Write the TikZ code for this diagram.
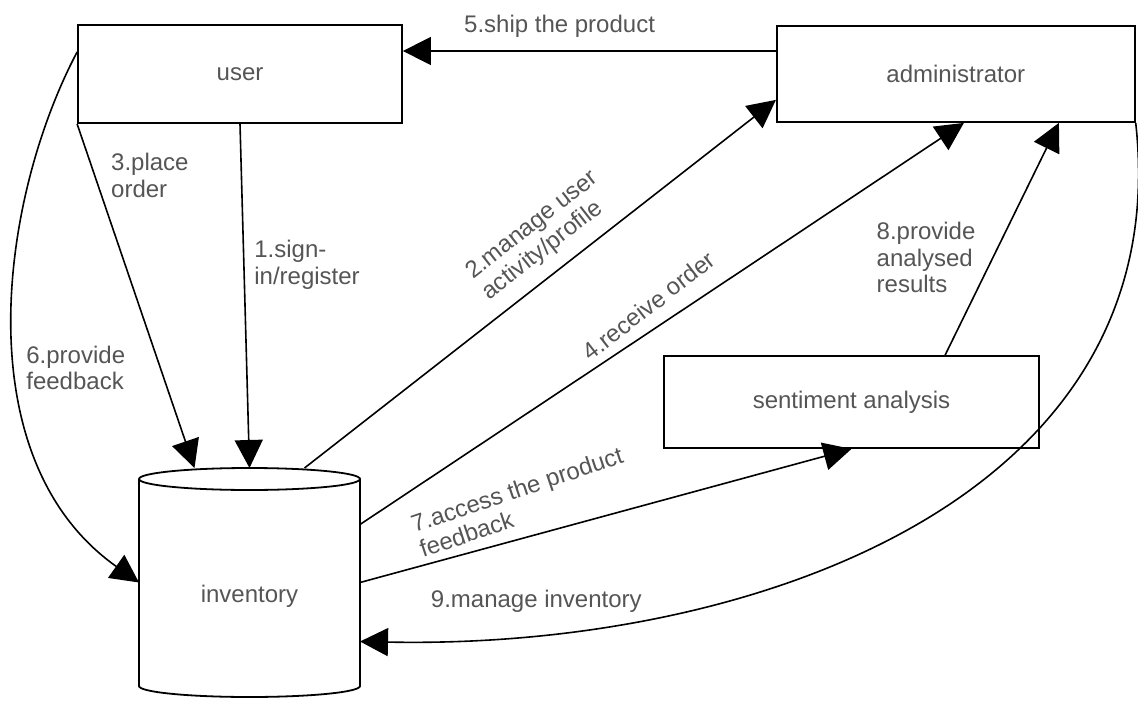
\documentclass[tikz,border=0pt]{standalone}
\usepackage{fontspec}
\setmainfont{Liberation Sans}
\usetikzlibrary{arrows.meta,positioning,shapes.geometric,calc}
\definecolor{labelgray}{RGB}{85,85,85}

\begin{document}
\begin{tikzpicture}[x=0.5pt, y=-0.5pt, >={Triangle[length=14pt,width=14pt]},
  box/.style={draw, line width=0.9pt, minimum height=48pt,
              font=\fontsize{12}{13.2}\selectfont, text=labelgray},
  db/.style={box, draw=none, outer sep=0pt, minimum width=110.5pt, minimum height=114.5pt},
  rim/.style={line width=0.9pt},
  flow/.style={->, line width=0.8pt},
  lbl/.style={font=\fontsize{12}{13.2}\selectfont, text=labelgray, align=left}]
\useasboundingbox (0,0) rectangle (1138,700);
\node[box, minimum width=162pt, minimum height=49pt] (user) at (240,74) {user};
\node[box, minimum width=179pt, right=186.5pt of user] (admin) {administrator};
\node[box, minimum width=187.5pt, minimum height=46pt] (senti) at (851.5,402) {sentiment analysis};
\node[db] (inv) at (249.5,582.5) {\raisebox{-7pt}[\height][\depth]{inventory}};
\draw[rim] ([yshift=-5.5pt]inv.north) ellipse [x radius=55.25pt, y radius=5.5pt];
\draw[rim] ([yshift=-5.5pt]inv.north west) -- ([yshift=5.5pt]inv.south west)
  arc [start angle=180, end angle=360, x radius=55.25pt, y radius=5.5pt]
  -- ([yshift=-5.5pt]inv.north east);
\draw[flow] (user.south) -- (inv.north)
  node[lbl, pos=0.41, right=1.5pt] {1.sign-\\in/register};
\draw[flow] ([xshift=27.5pt]inv.north) -- ([yshift=11.5pt]admin.south west)
  node[lbl, pos=0.55, sloped, above=3pt] {2.manage user\\activity/profile};
\draw[flow] (user.south west) -- ([xshift=-27.5pt]inv.north)
  node[lbl, pos=0.15, right=4.5pt] {3.place\\order};
\draw[flow] ([yshift=29pt]inv.east) -- ([xshift=94pt]admin.south west)
  node[lbl, pos=0.5, sloped, above=3pt, rotate=4] {4.receive order};
\draw[flow] ([yshift=11.5pt]admin.west) -- ([yshift=11.5pt]user.east)
  node[lbl, pos=0.58, above=3pt] {5.ship the product};
\draw[flow] ([yshift=11pt]user.west) .. controls +(-78,148) and +(-174,-123) .. (inv.west)
  node[lbl, pos=0.57, right=1pt] {6.provide\\feedback};
\draw[flow] (inv.east) -- (senti.south)
  node[lbl, pos=0.35, sloped, above=3pt, rotate=3.3] {7.access the product\\feedback};
\draw[flow] ([xshift=141pt]senti.north west) -- ([xshift=141.5pt]admin.south west)
  node[lbl, pos=0.42, left=5pt] {8.provide\\analysed\\results};
\draw[flow] (admin.south east) .. controls +(42,377) and +(390,8) .. ([yshift=-29.5pt]inv.east)
  node[lbl, pos=0.85, above=7pt] {9.manage inventory};
\end{tikzpicture}
\end{document}
